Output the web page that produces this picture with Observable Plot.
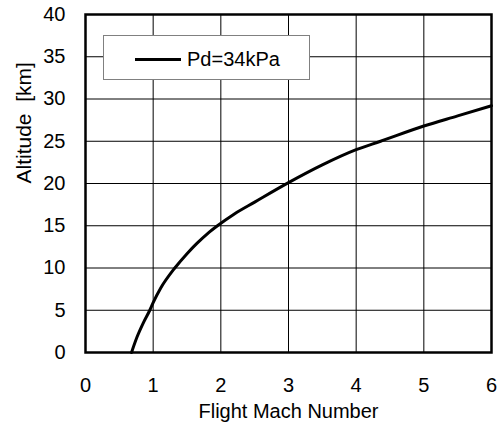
<!DOCTYPE html>
<html>
<head>
<meta charset="utf-8">
<script src="https://cdn.jsdelivr.net/npm/d3@7"></script>
<script src="https://cdn.jsdelivr.net/npm/@observablehq/plot@0.6"></script>
<style>
  html, body { margin: 0; padding: 0; background: #fff; }
  #wrap { position: relative; width: 502px; height: 434px; font-family: "Liberation Sans", Arial, sans-serif; }
  #legend { position: absolute; left: 103px; top: 35px; width: 205px; height: 43px; background: #fff; border: 1px solid #808080; }
  #legend .sw { position: absolute; left: 31px; top: 22px; width: 46px; height: 3px; background: #000; }
  #legend .lb { position: absolute; left: 83px; top: 11px; font-size: 20px; line-height: 24px; color: #000; }
</style>
</head>
<body>
<div id="wrap"></div>
<script>
// Data
const machNumber = [0.68, 0.76, 0.86, 0.95, 1.0, 1.11, 1.32, 1.5, 1.65, 1.8, 1.95, 2.2, 2.5, 3.0, 3.5, 4.0, 4.36, 5.0, 5.5, 6.0];
const altitudeKm = [0, 1.8, 3.6, 5.0, 5.9, 7.6, 10.0, 11.7, 12.95, 14.05, 15.0, 16.4, 17.8, 20.1, 22.2, 24.0, 25.0, 26.8, 28.0, 29.2];
const xTicks = [0, 1, 2, 3, 4, 5, 6];
const yTicks = [0, 5, 10, 15, 20, 25, 30, 35, 40];
const seriesName = "Pd=34kPa";
const xTitle = "Flight Mach Number";
const yTitle = "Altitude\u00a0\u00a0[km]";

const data = machNumber.map((m, i) => ({mach: m, alt: altitudeKm[i]}));

const chart = Plot.plot({
  width: 502,
  height: 434,
  marginLeft: 85,
  marginRight: 11,
  marginTop: 14,
  marginBottom: 82,
  style: {fontFamily: "'Liberation Sans', Arial, sans-serif", fontSize: "20px", background: "white", color: "black"},
  x: {domain: [0, 6]},
  y: {domain: [0, 40]},
  marks: [
    Plot.gridX(xTicks, {stroke: "black", strokeOpacity: 1, strokeWidth: 1}),
    Plot.gridY(yTicks, {stroke: "black", strokeOpacity: 1, strokeWidth: 1}),
    Plot.axisX(xTicks, {tickSize: 0, tickPadding: 25, label: null, fontSize: 20}),
    Plot.axisY(yTicks, {tickSize: 0, tickPadding: 20, label: null, fontSize: 20}),
    Plot.line(data, {x: "mach", y: "alt", stroke: "black", strokeWidth: 3, curve: "monotone-x"}),
    Plot.frame({stroke: "black", strokeWidth: 2.5}),
    Plot.text([xTitle], {text: d => d, frameAnchor: "bottom", dy: 65.5, fontSize: 20}),
    Plot.text([yTitle], {text: d => d, frameAnchor: "left", rotate: -90, dx: -61.5, fontSize: 21})
  ]
});
const wrap = document.getElementById("wrap");
wrap.appendChild(chart);
const legend = document.createElement("div");
legend.id = "legend";
legend.innerHTML = '<div class="sw"></div><div class="lb"></div>';
legend.querySelector(".lb").textContent = seriesName;
wrap.appendChild(legend);
</script>
</body>
</html>
